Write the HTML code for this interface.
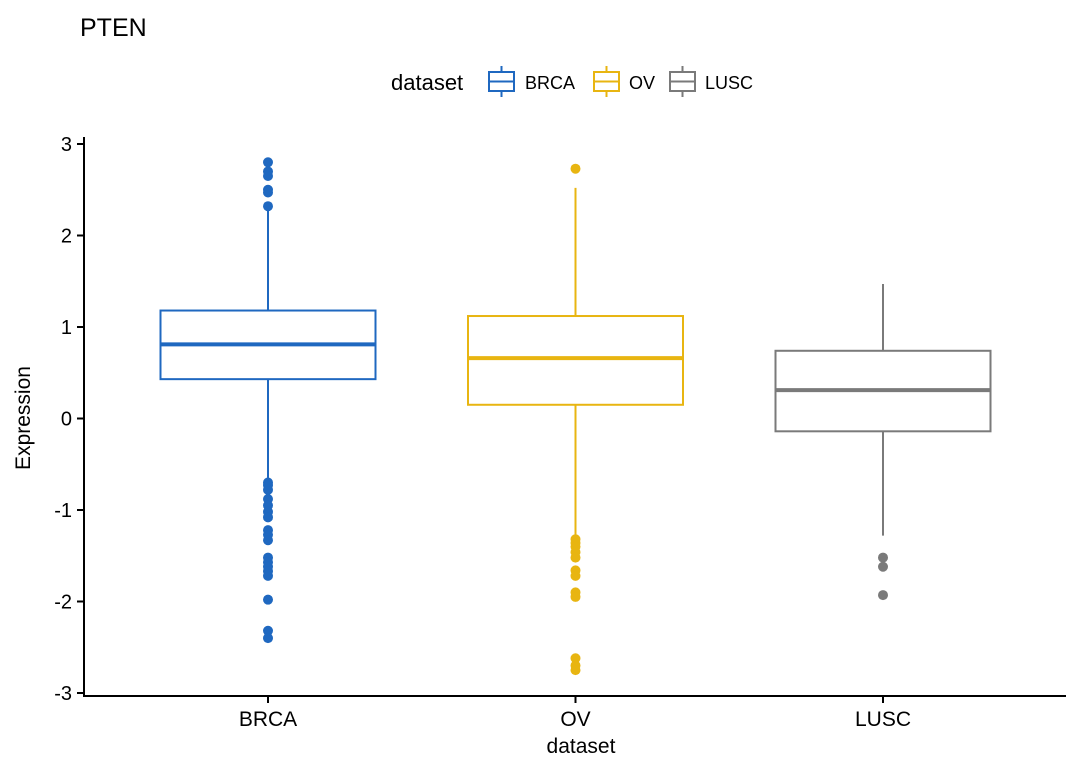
<!DOCTYPE html>
<html><head><meta charset="utf-8"><style>body{margin:0;background:#fff}svg text{font-family:"Liberation Sans",sans-serif}</style></head>
<body>
<svg id="c" width="1080" height="771" xmlns="http://www.w3.org/2000/svg">
<text x="80" y="36" font-size="25" fill="#000">PTEN</text>
<g id="legend">
<text x="391" y="90" font-size="22">dataset</text>
</g>
<g id="plot"></g>
<line x1="84" y1="137" x2="84" y2="697" stroke="#000" stroke-width="2"/>
<line x1="83" y1="696" x2="1066" y2="696" stroke="#000" stroke-width="2"/>
<text x="581" y="753" font-size="21" text-anchor="middle">dataset</text>
<text transform="translate(30,418) rotate(-90)" font-size="21" text-anchor="middle">Expression</text>
</svg>
<script>
const categories=["BRCA","OV","LUSC"];
const colors=["#1f68c0","#e8b511","#7a7a7a"];
const q1=[0.43,0.15,-0.14];
const medians=[0.81,0.66,0.31];
const q3=[1.18,1.12,0.74];
const whiskerLow=[-0.68,-1.28,-1.28];
const whiskerHigh=[2.27,2.52,1.47];
const outliersBRCA=[2.8,2.7,2.65,2.5,2.47,2.32,-0.7,-0.73,-0.78,-0.88,-0.95,-1.02,-1.08,-1.22,-1.27,-1.33,-1.52,-1.57,-1.62,-1.67,-1.72,-1.98,-2.32,-2.4];
const outliersOV=[2.73,-1.32,-1.36,-1.4,-1.46,-1.52,-1.66,-1.72,-1.9,-1.95,-2.62,-2.7,-2.75];
const outliersLUSC=[-1.52,-1.62,-1.93];
const yTicks=[-3,-2,-1,0,1,2,3];
const outliers=[outliersBRCA,outliersOV,outliersLUSC];
const NS="http://www.w3.org/2000/svg";
const y=v=>418.5-v*91.5;
const x=i=>268+i*307.5;
const svg=document.getElementById('c'),plot=document.getElementById('plot'),leg=document.getElementById('legend');
function mk(t,a,p){const e=document.createElementNS(NS,t);for(const k in a)e.setAttribute(k,a[k]);(p||plot).appendChild(e);return e;}
yTicks.forEach(t=>{
 const l=mk('line',{x1:77,x2:84,y1:y(t),y2:y(t),stroke:'#000','stroke-width':2},svg);
 
 
 const tx=mk('text',{x:72,y:y(t)+7,'font-size':20,'text-anchor':'end'},svg);tx.textContent=t;
 
 
});
const hw=107.5;
categories.forEach((c,i)=>{
 const cx=x(i),col=colors[i];
 const g=mk('g',{});
 
 
 mk('line',{x1:cx,x2:cx,y1:y(q3[i]),y2:y(whiskerHigh[i]),stroke:col,'stroke-width':2},g);
 mk('line',{x1:cx,x2:cx,y1:y(q1[i]),y2:y(whiskerLow[i]),stroke:col,'stroke-width':2},g);
 mk('rect',{x:cx-hw,y:y(q3[i]),width:2*hw,height:y(q1[i])-y(q3[i]),fill:'#fff',stroke:col,'stroke-width':2},g);
 mk('line',{x1:cx-hw,x2:cx+hw,y1:y(medians[i]),y2:y(medians[i]),stroke:col,'stroke-width':4},g);
 outliers[i].forEach(v=>{
  const p=mk('circle',{cx:cx,cy:y(v),r:5,fill:col},g);
  
  
 });
 const tl=mk('line',{x1:cx,x2:cx,y1:696,y2:703,stroke:'#000','stroke-width':2},svg);
 
 
 const tx=mk('text',{x:cx,y:726,'font-size':21,'text-anchor':'middle'},svg);tx.textContent=c;
 
 
});
const lx=[488,593,669],ltx=[525,629,705];
categories.forEach((c,i)=>{
 const g=mk('g',{},leg);
 
 
 const col=colors[i],k=lx[i];
 mk('line',{x1:k+13.5,x2:k+13.5,y1:66,y2:97,stroke:col,'stroke-width':2},g);
 mk('rect',{x:k+1,y:72,width:25,height:19,fill:'#fff',stroke:col,'stroke-width':2},g);
 mk('line',{x1:k+1,x2:k+26,y1:81.5,y2:81.5,stroke:col,'stroke-width':2},g);
 const t=mk('text',{x:ltx[i],y:89,'font-size':18},g);t.textContent=c;
});
</script>
</body></html>
